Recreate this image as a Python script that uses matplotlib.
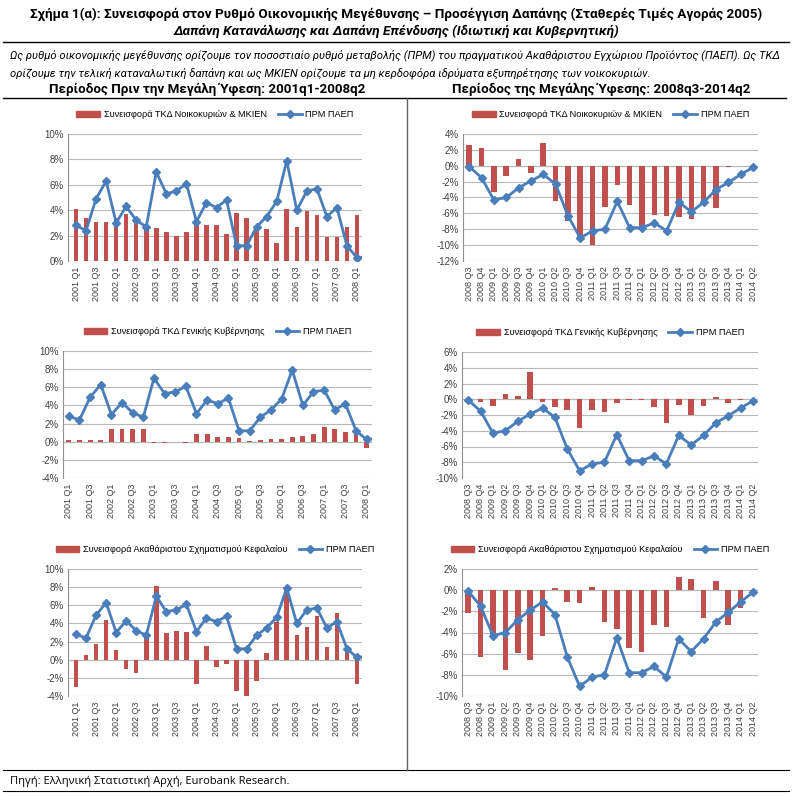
import numpy as np
import matplotlib
matplotlib.use("Agg")
import matplotlib.pyplot as plt
from matplotlib.lines import Line2D
from matplotlib.patches import Patch

plt.rcParams['font.family'] = ['Open Sans', 'DejaVu Sans']

# ---------------- data ----------------
pre_quarters = [f"{y} Q{q}" for y in range(2001, 2009) for q in range(1, 5)][:30]
post_quarters = ([f"2008 Q{q}" for q in (3, 4)] +
                 [f"{y} Q{q}" for y in range(2009, 2014) for q in range(1, 5)] +
                 ["2014 Q1", "2014 Q2"])

pre_gdp = [2.8, 2.4, 4.9, 6.3, 3.0, 4.3, 3.2, 2.7, 7.0, 5.3, 5.5, 6.1, 3.1, 4.6, 4.2, 4.8,
           1.2, 1.2, 2.7, 3.5, 4.7, 7.9, 4.0, 5.5, 5.7, 3.5, 4.2, 1.2, 0.25, 0.35]
pre_households = [4.1, 3.4, 3.1, 3.1, 3.4, 3.7, 3.2, 2.8, 2.6, 2.3, 2.0, 2.3, 2.8, 2.8, 2.8, 2.1,
                  3.8, 3.4, 2.4, 2.5, 1.4, 4.1, 2.7, 3.9, 3.6, 1.9, 1.9, 2.7, 3.6]
pre_government = [0.2, 0.2, 0.2, 0.15, 1.45, 1.4, 1.35, 1.35, -0.1, -0.15, -0.05, -0.15, 0.8, 0.85,
                  0.55, 0.55, 0.45, 0.1, 0.15, 0.25, 0.25, 0.55, 0.65, 0.85, 1.6, 1.4, 1.1, 1.2, -0.7]
pre_capital = [-3.0, 0.5, 1.7, 4.4, 1.1, -1.0, -1.5, 2.7, 8.1, 3.0, 3.2, 3.1, -2.7, 1.5, -0.8, -0.5,
               -3.4, -4.0, -2.3, 0.7, 4.2, 7.7, 2.7, 3.6, 4.8, 1.4, 5.1, 1.0, -2.7]

post_gdp = [-0.1, -1.5, -4.3, -4.0, -2.8, -1.9, -1.1, -2.3, -6.3, -9.1, -8.2, -8.0,
            -4.5, -7.8, -7.8, -7.2, -8.2, -4.6, -5.8, -4.6, -3.0, -2.1, -1.1, -0.2]
post_households = [2.6, 2.2, -3.3, -1.3, 0.9, -0.9, 2.9, -4.5, -7.0, -9.0, -10.0, -5.2,
                   -2.4, -4.9, -7.6, -6.2, -6.3, -6.5, -6.7, -4.5, -5.3, -0.1, -0.05, 0.0]
post_government = [0.0, -0.3, -0.9, 0.7, 0.35, 3.4, -0.4, -1.0, -1.4, -3.6, -1.4, -1.6,
                   -0.5, -0.05, -0.15, -1.0, -3.0, -0.7, -2.0, -0.9, 0.3, -0.5, -0.15, 0.0]
post_capital = [-2.2, -6.3, -4.2, -7.5, -5.9, -6.6, -4.3, 0.2, -1.1, -1.2, 0.3, -3.0,
                -3.7, -5.5, -5.8, -3.3, -3.5, 1.2, 1.1, -2.6, 0.9, -3.3, -1.7, -0.2]

bar_labels = ["Συνεισφορά ΤΚΔ Νοικοκυριών & ΜΚΙΕΝ",
              "Συνεισφορά ΤΚΔ Γενικής Κυβέρνησης",
              "Συνεισφορά Ακαθάριστου Σχηματισμού Κεφαλαίου"]
line_label = "ΠΡΜ ΠΑΕΠ"

title1 = "Σχήμα 1(α): Συνεισφορά στον Ρυθμό Οικονομικής Μεγέθυνσης – Προσέγγιση Δαπάνης (Σταθερές Τιμές Αγοράς 2005)"
title2 = "Δαπάνη Κατανάλωσης και Δαπάνη Επένδυσης (Ιδιωτική και Κυβερνητική)"
note1 = ("Ως ρυθμό οικονομικής μεγέθυνσης ορίζουμε τον ποσοστιαίο ρυθμό μεταβολής (ΠΡΜ) του πραγματικού "
         "Ακαθάριστου Εγχώριου Προϊόντος (ΠΑΕΠ). Ως ΤΚΔ")
note2 = ("ορίζουμε την τελική καταναλωτική δαπάνη και ως ΜΚΙΕΝ ορίζουμε τα μη κερδοφόρα ιδρύματα "
         "εξυπηρέτησης των νοικοκυριών.")
head_left = "Περίοδος Πριν την Μεγάλη Ύφεση: 2001q1-2008q2"
head_right = "Περίοδος της Μεγάλης Ύφεσης: 2008q3-2014q2"
source = "Πηγή: Ελληνική Στατιστική Αρχή, Eurobank Research."

# ---------------- style ----------------
BAR = "#C0504D"
LINE = "#4A7EBB"
GRID = "#B8B8B8"
TXT = "#404040"
TICKFONT = ['Liberation Sans', 'DejaVu Sans']
HEADFONT = ['Roboto', 'DejaVu Sans']

W, H = 792, 796
fig = plt.figure(figsize=(W / 100, H / 100), dpi=100)

def rect(l, t, r, b):
    return [l / W, 1 - b / H, (r - l) / W, (b - t) / H]

def panel(box, cats, gdp, bars, blabel, ylim, yticks, every, xlim):
    ax = fig.add_axes(rect(*box))
    x = np.arange(len(cats))
    ax.bar(x[:len(bars)], bars, width=0.45, color=BAR, zorder=2)
    ax.plot(x[:len(gdp)], gdp, color=LINE, lw=2, marker="D", ms=4.2,
            mec=LINE, mfc=LINE, zorder=3)
    ax.set_ylim(*ylim)
    ax.set_xlim(*xlim)
    ax.set_yticks(yticks)
    ax.set_yticklabels([f"{v}%" for v in yticks], fontsize=7, color=TXT, family=TICKFONT)
    ax.grid(axis="y", color=GRID, lw=0.8, zorder=0)
    ax.axhline(0, color="#909090", lw=0.8, zorder=1)
    ax.set_xticks(x[::every])
    ax.set_xticklabels(cats[::every], rotation=90, fontsize=6.5, color=TXT, family=TICKFONT)
    ax.tick_params(axis="x", length=0, pad=4)
    ax.tick_params(axis="y", length=0, pad=3)
    for s in ("top", "right", "bottom"):
        ax.spines[s].set_visible(False)
    ax.spines["left"].set_color("#909090")
    ax.spines["left"].set_linewidth(0.8)
    handles = [Patch(color=BAR, label=blabel),
               Line2D([0], [0], color=LINE, lw=2, marker="D", ms=4, label=line_label)]
    ax.legend(handles=handles, loc="lower center", bbox_to_anchor=(0.5, 1.09), ncol=2,
              frameon=False, handlelength=2.6, handleheight=0.6,
              columnspacing=1.2, handletextpad=0.4, borderaxespad=0,
              prop={'family': TICKFONT, 'size': 6.6})
    return ax

lx = (-0.8, 28.5)
rx = (-0.5, 23.4)
panel((68, 134, 362, 261), pre_quarters, pre_gdp, pre_households, bar_labels[0],
      (0, 10), list(range(0, 11, 2)), 2, lx)
panel((463, 134, 758, 261), post_quarters, post_gdp, post_households, bar_labels[0],
      (-12, 4), list(range(-12, 5, 2)), 1, rx)
panel((63, 351, 372, 478), pre_quarters, pre_gdp, pre_government, bar_labels[1],
      (-4, 10), list(range(-4, 11, 2)), 2, (-0.55, 28.5))
panel((462, 352, 758, 478), post_quarters, post_gdp, post_government, bar_labels[1],
      (-10, 6), list(range(-10, 7, 2)), 1, rx)
panel((68, 569, 362, 696), pre_quarters, pre_gdp, pre_capital, bar_labels[2],
      (-4, 10), list(range(-4, 11, 2)), 2, lx)
panel((462, 569, 758, 696), post_quarters, post_gdp, post_capital, bar_labels[2],
      (-10, 2), list(range(-10, 3, 2)), 1, rx)

# ---------------- text & rules ----------------
def fy(y):
    return 1 - y / H

fig.text(0.5, fy(14), title1, ha="center", va="center", fontsize=9.7, weight="bold", family=HEADFONT)
fig.text(0.5, fy(31), title2, ha="center", va="center", fontsize=9.7, weight="bold",
         style="italic", family=HEADFONT)
fig.text(10 / W, fy(55), note1, ha="left", va="center", fontsize=8.1, style="italic", family=HEADFONT)
fig.text(10 / W, fy(73), note2, ha="left", va="center", fontsize=8.1, style="italic", family=HEADFONT)
fig.text(207 / W, fy(89), head_left, ha="center", va="center", fontsize=9.6, weight="bold", family=HEADFONT)
fig.text(601 / W, fy(89), head_right, ha="center", va="center", fontsize=9.6, weight="bold", family=HEADFONT)
fig.text(10 / W, fy(781), source, ha="left", va="center", fontsize=8, family=['Open Sans', 'DejaVu Sans'])

def hline(y, x0=3, x1=789, lw=1.0):
    fig.add_artist(Line2D([x0 / W, x1 / W], [fy(y), fy(y)], color="black", lw=lw))

hline(42)
hline(98, 3, 786)
hline(770, 3, 789, 0.8)
hline(791, 3, 789, 0.8)
fig.add_artist(Line2D([407 / W, 407 / W], [fy(98), fy(770)], color="#606060", lw=1.0))

fig.savefig("out.png", dpi=100)
